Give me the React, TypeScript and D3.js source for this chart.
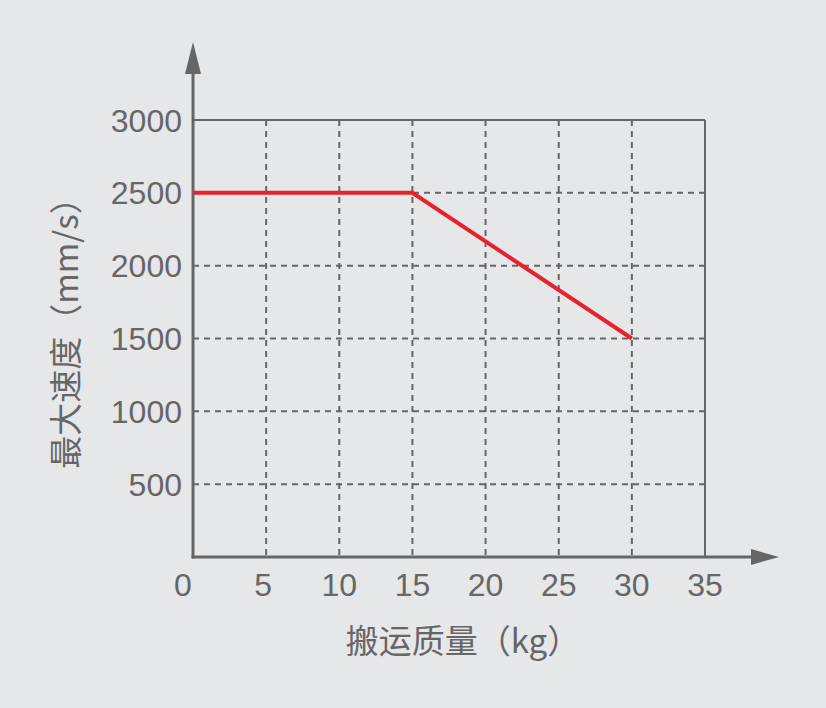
import React from 'react';
import * as d3 from 'd3';

const massPoints = [0, 15, 30];
const speedPoints = [2500, 2500, 1500];
const xTicks = [0, 5, 10, 15, 20, 25, 30, 35];
const yTicks = [500, 1000, 1500, 2000, 2500, 3000];
const xTitle = '搬运质量（kg）';
const yTitle = '最大速度（mm/s）';

const W = 826;
const H = 708;
const left = 193;
const right = 705;
const top = 120;
const bottom = 557;
const axisColor = '#666667';
const font = '"Liberation Sans", Arial, sans-serif';
const cjk = '"Noto Sans CJK SC", sans-serif';

export default function App() {
  const x = d3.scaleLinear().domain([0, 35]).range([left, right]);
  const y = d3.scaleLinear().domain([0, 3000]).range([bottom, top]);

  const line = d3.line<number>()
    .x((_, i) => x(massPoints[i]))
    .y((d) => y(d));

  return (
    <svg
      width={W}
      height={H}
      style={{ position: 'absolute', left: 0, top: 0, background: '#e6e7e8' }}
    >
      <rect width={W} height={H} fill="#e6e7e8" />

      {/* dashed grid */}
      {xTicks.filter((t) => t > 0 && t < 35).map((t) => (
        <line key={'gx' + t} x1={x(t)} x2={x(t)} y1={top} y2={bottom}
          stroke={axisColor} strokeWidth={2} strokeDasharray="6 5" />
      ))}
      {yTicks.filter((t) => t < 3000).map((t) => (
        <line key={'gy' + t} x1={left} x2={right} y1={y(t)} y2={y(t)}
          stroke={axisColor} strokeWidth={2} strokeDasharray="6 5" />
      ))}

      {/* frame top and right */}
      <line x1={left} x2={right} y1={y(3000)} y2={y(3000)} stroke={axisColor} strokeWidth={2} />
      <line x1={x(35)} x2={x(35)} y1={top} y2={bottom} stroke={axisColor} strokeWidth={2} />

      {/* axes with arrows */}
      <line x1={left} x2={left} y1={bottom + 1.5} y2={70} stroke={axisColor} strokeWidth={3} />
      <path d={`M${left},42 L${left - 8},74 L${left + 8},74 Z`} fill={axisColor} />
      <line x1={left - 1.5} x2={755} y1={bottom} y2={bottom} stroke={axisColor} strokeWidth={3} />
      <path d={`M779,${bottom} L751,${bottom - 8} L751,${bottom + 8} Z`} fill={axisColor} />

      {/* data line */}
      <path d={line(speedPoints) || ''} fill="none" stroke="#e8222b" strokeWidth={4} strokeLinejoin="miter" />

      {/* tick labels */}
      {yTicks.map((t) => (
        <text key={'ty' + t} x={182} y={y(t)} dy="0.36em" textAnchor="end"
          fontFamily={font} fontSize={32} fill={axisColor}>{t}</text>
      ))}
      {xTicks.map((t) => (
        <text key={'tx' + t} x={x(t) - (t === 0 ? 10 : t === 5 ? 3 : 0)} y={596} textAnchor="middle"
          fontFamily={font} fontSize={32} fill={axisColor}>{t}</text>
      ))}

      {/* axis titles */}
      <text x={463} y={653} textAnchor="middle" fontFamily={cjk} fontSize={33} fill={axisColor}>{xTitle}</text>
      <text transform={`translate(78,${325}) rotate(-90)`} textAnchor="middle"
        fontFamily={cjk} fontSize={33} fill={axisColor}>{yTitle}</text>
    </svg>
  );
}
